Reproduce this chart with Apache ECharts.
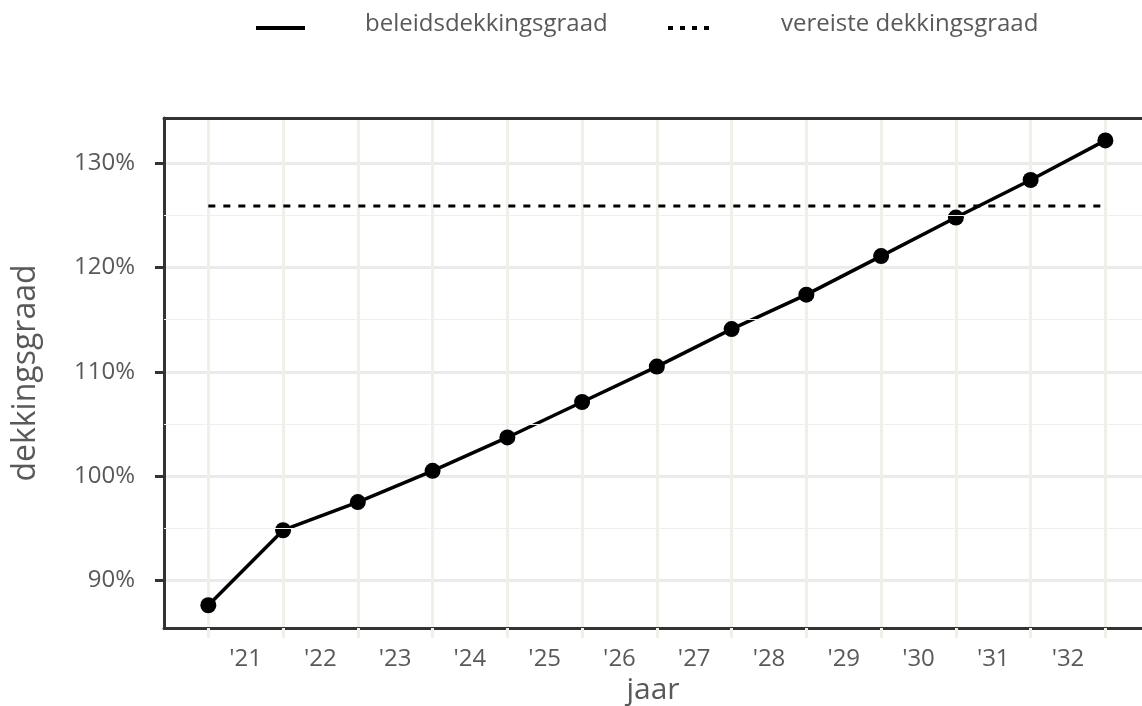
<!DOCTYPE html>
<html><head><meta charset="utf-8">
<script src="https://cdn.jsdelivr.net/npm/echarts@6/dist/echarts.min.js"></script>
<style>html,body{margin:0;padding:0;background:#fff}#c{width:1142px;height:706px}</style>
</head><body><div id="c"></div>
<script>
// ---- data ----
const yearLabels = ["'21", "'22", "'23", "'24", "'25", "'26", "'27", "'28", "'29", "'30", "'31", "'32"];
const xPositions = [0, 1, 2, 3, 4, 5, 6, 7, 8, 9, 10, 11, 12];
const labelPositions = [0.5, 1.5, 2.5, 3.5, 4.5, 5.5, 6.5, 7.5, 8.5, 9.5, 10.5, 11.5];
const beleidsdekkingsgraad = [87.6, 94.8, 97.5, 100.5, 103.7, 107.1, 110.5, 114.1, 117.4, 121.1, 124.8, 128.4, 132.2];
const vereisteDekkingsgraad = [125.9, 125.9, 125.9, 125.9, 125.9, 125.9, 125.9, 125.9, 125.9, 125.9, 125.9, 125.9, 125.9];
const yTicks = [90, 100, 110, 120, 130];
const yMinorLines = [95, 105, 115, 125];
const seriesNames = ['beleidsdekkingsgraad', 'vereiste dekkingsgraad'];

const FONT = 'Open Sans';
const TXT = '#595959';
const DARK = '#333333';
const BEIGE = '#f1efe8';

const chart = echarts.init(document.getElementById('c'), null, {renderer: 'canvas'});
const option = {
  backgroundColor: '#ffffff',
  animation: false,
  grid: {left: 164, right: 0, top: 118, bottom: 78, containLabel: false, outerBoundsMode: 'none'},
  xAxis: [{
    type: 'value', min: -0.593, max: 12.49,
    name: 'jaar', nameLocation: 'middle', nameGap: 46,
    nameTextStyle: {fontFamily: FONT, fontSize: 30, color: TXT},
    axisLine: {show: true, onZero: false, lineStyle: {color: DARK, width: 3}},
    axisTick: {show: true, customValues: xPositions, length: 10, lineStyle: {color: BEIGE, width: 3}},
    axisLabel: {show: true, customValues: labelPositions, margin: 19,
      fontFamily: FONT, fontSize: 24, color: TXT,
      formatter: v => yearLabels[Math.round(v - 0.5)]},
    splitLine: {show: true, lineStyle: {color: BEIGE, width: 3}}
  }, {
    type: 'value', min: -0.593, max: 12.49, position: 'top',
    axisLine: {show: true, onZero: false, lineStyle: {color: DARK, width: 3}},
    axisTick: {show: false}, axisLabel: {show: false}, splitLine: {show: false}
  }],
  yAxis: {
    type: 'value', min: 85.42, max: 134.35,
    name: 'dekkingsgraad', nameLocation: 'middle', nameGap: 122,
    nameTextStyle: {fontFamily: FONT, fontSize: 32, color: TXT},
    axisLine: {show: true, onZero: false, lineStyle: {color: DARK, width: 3}},
    axisTick: {show: true, customValues: yTicks, length: 9, lineStyle: {color: DARK, width: 3}},
    axisLabel: {show: true, customValues: yTicks, margin: 29,
      fontFamily: FONT, fontSize: 24, color: TXT, formatter: v => v + '%'},
    splitLine: {show: true, lineStyle: {color: '#ebebeb', width: 3}}
  },
  series: [
    {
      name: 'minor', type: 'line', data: [], silent: true, z: 1,
      markLine: {silent: true, symbol: 'none', label: {show: false},
        lineStyle: {color: '#efefef', width: 1, type: 'solid'},
        data: yMinorLines.map(v => ({yAxis: v}))}
    },
    {
      name: seriesNames[1], type: 'line', z: 3,
      data: xPositions.map((x, i) => [x, vereisteDekkingsgraad[i]]),
      showSymbol: false, symbol: 'none',
      lineStyle: {color: '#000', width: 3, type: [7, 8]}
    },
    {
      name: seriesNames[0], type: 'line', z: 4,
      data: xPositions.map((x, i) => [x, beleidsdekkingsgraad[i]]),
      symbol: 'circle', symbolSize: 16,
      itemStyle: {color: '#000'},
      lineStyle: {color: '#000', width: 3.5}
    }
  ],
  graphic: [
    {type: 'line', shape: {x1: 256, y1: 28, x2: 305, y2: 28}, style: {stroke: '#000', lineWidth: 4}},
    {type: 'text', left: 365, top: 12, style: {text: seriesNames[0], font: '24px "Open Sans"', fill: TXT}},
    {type: 'line', shape: {x1: 668, y1: 28, x2: 711, y2: 28}, style: {stroke: '#000', lineWidth: 4, lineDash: [5, 7]}},
    {type: 'text', left: 781, top: 12, style: {text: seriesNames[1], font: '24px "Open Sans"', fill: TXT}}
  ]
};
chart.setOption(option);
</script>
</body></html>
